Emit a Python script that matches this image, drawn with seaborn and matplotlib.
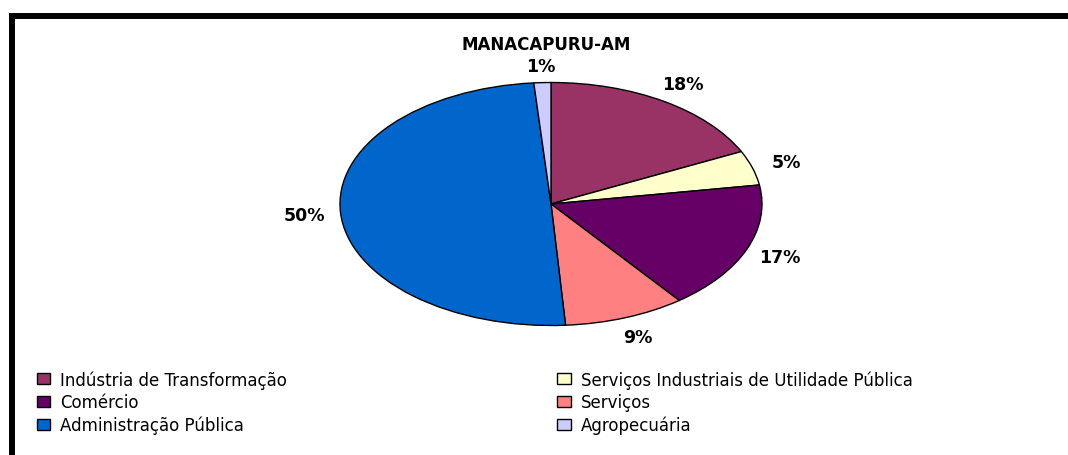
from __future__ import annotations

import matplotlib

matplotlib.use("Agg")

import matplotlib.pyplot as plt
import seaborn as sns
from matplotlib.patches import Patch, Rectangle

# --- Dados (participacao por setor, Manacapuru-AM) ---
title = "MANACAPURU-AM"
sectors = [
    "Indústria de Transformação",
    "Serviços Industriais de Utilidade Pública",
    "Comércio",
    "Serviços",
    "Administração Pública",
    "Agropecuária",
]
shares = [17.9, 4.6, 17.1, 9.3, 49.8, 1.3]
colors = ["#993366", "#FFFFCC", "#660066", "#FF8080", "#0066CC", "#CCCCFF"]


def main() -> None:
    sns.set_theme(style="white")
    plt.rcParams["font.family"] = ["DejaVu Sans"]
    plt.rcParams["text.color"] = "black"

    W, H = 1068, 456
    fig = plt.figure(figsize=(W / 100, H / 100), dpi=100)

    # moldura preta (so borda esquerda e superior aparecem)
    fig.patches.append(
        Rectangle((12 / W, -0.1), 1.2, 1.1 - 17 / H, transform=fig.transFigure,
                  fill=False, edgecolor="black", linewidth=4.3)
    )

    # eixo posicionado para que o circulo unitario vire a elipse do original
    cx, cy, rx, ry = 551, 205, 211, 121.5
    lim = 1.2
    ax = fig.add_axes([(cx - lim * rx) / W, (H - cy - lim * ry) / H, 2 * lim * rx / W, 2 * lim * ry / H])

    wedges, _, autotexts = ax.pie(
        shares,
        colors=colors,
        startangle=90,
        counterclock=False,
        autopct=lambda p: f"{p:.0f}%",
        pctdistance=1.17,
        wedgeprops={"edgecolor": "black", "linewidth": 1.0},
        frame=True,
    )
    ax.set_xlim(-lim, lim)
    ax.set_ylim(-lim, lim)
    ax.set_aspect("auto")
    ax.axis("off")
    for t in autotexts:
        t.set_fontsize(12.5)
        t.set_fontweight("bold")
        t.set_color("black")
    # rotulo de 1% um pouco mais perto da pizza, como no original
    x1, y1 = autotexts[-1].get_position()
    autotexts[-1].set_position((x1 * 0.97, y1 * 0.97))

    fig.text(546 / W, 1 - 45 / H, title, ha="center", va="center", fontsize=12,
             fontweight="bold", color="black")

    # legenda em 2 colunas, preenchida por linha como no original
    handles = [Patch(facecolor=c, edgecolor="black", linewidth=1.0) for c in colors]
    order = [0, 2, 4, 1, 3, 5]
    fig.legend(
        [handles[i] for i in order],
        [sectors[i] for i in order],
        ncol=2,
        loc="upper left",
        bbox_to_anchor=(37 / W, 1 - 371 / H),
        borderaxespad=0,
        borderpad=0,
        frameon=False,
        fontsize=12,
        labelcolor="black",
        handlelength=0.8,
        handleheight=0.6,
        handletextpad=0.6,
        labelspacing=0.28,
        columnspacing=16.2,
    )

    fig.savefig("out.png", dpi=100)
    plt.close(fig)


if __name__ == "__main__":
    main()
